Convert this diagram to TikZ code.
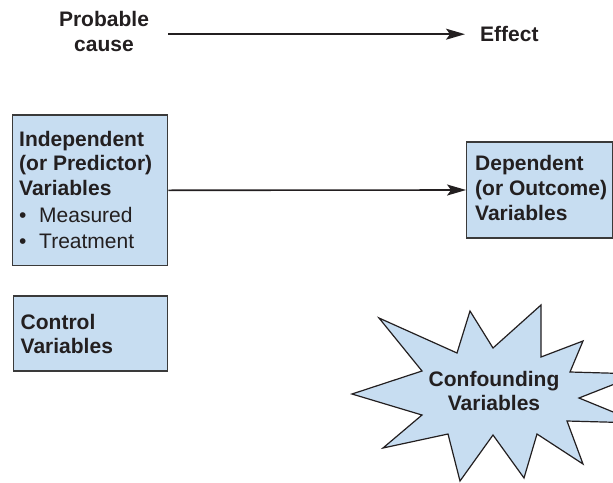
\documentclass[tikz,border=0pt]{standalone}
\usepackage{fontspec}
\setmainfont{Liberation Sans}
\usetikzlibrary{arrows.meta}
\definecolor{ink}{HTML}{231F20}
\definecolor{boxfill}{HTML}{C7DDF1}
\definecolor{boxline}{HTML}{3A3A3A}
\begin{document}
\begin{tikzpicture}[x=1pt,y=-1pt,
  txt/.style={font=\fontsize{21}{24.5}\selectfont\bfseries, text=ink, inner sep=0pt},
  varbox/.style={draw=boxline, line width=1.3pt, fill=boxfill, inner sep=0pt},
  arrow/.style={draw=ink, line width=1.6pt, -{Stealth[length=19pt,width=11pt,inset=4pt]}}
]
\useasboundingbox (0,0) rectangle (613,482);

% cause -> effect legend (base anchors sit on the last line)
\node[txt, align=center, anchor=base] (cause) at (104,51.7)
  {Probable\\[0.5pt]cause};
\node[txt, anchor=base west] (effect) at (480,41.7) {Effect};
\draw[arrow] ([xshift=19pt]cause.east |- effect.west) -- ([xshift=-15pt]effect.west);

% variable boxes
\node[varbox, minimum width=155pt, minimum height=150.5pt] (ind) at (90.2,190.3) {};
\node[varbox, minimum width=146pt, minimum height=96pt] (dep) at (539.7,190) {};
\node[varbox, minimum width=154.5pt, minimum height=75pt] (ctrl) at (90.5,333.5) {};

\node[txt, align=left, anchor=base west] (indtxt) at (19,248.3)
  {Independent\\(or Predictor)\\Variables\\[2.5pt]
   {\mdseries\makebox[20pt][l]{•}Measured}\\[1.5pt]
   {\mdseries\makebox[20pt][l]{•}Treatment}};
\node[txt, align=left, anchor=base west] (deptxt) at (475,220.7)
  {Dependent\\[0.5pt](or Outcome)\\[0.5pt]Variables};
\node[txt, align=left, anchor=base west] (ctrltxt) at (20.5,353.3)
  {Control\\[-0.5pt]Variables};

\draw[arrow] (ind.east) -- (dep.west);

% confounding burst
\begin{scope}
  \clip (0,0) rectangle (613,482);
  \draw[fill=boxfill, draw=ink, line width=1.2pt, line join=miter]
    (379,318) -- (457,353) -- (470,311) -- (493,348) -- (541,305) -- (541,357)
    -- (583,341) -- (570,372) -- (640,374) -- (579,398) -- (640,423) -- (567,421)
    -- (583,464) -- (537,434) -- (524,478) -- (493,435) -- (460,481) -- (448,434)
    -- (383,448) -- (422,415) -- (352,394) -- (422,371) -- cycle;
\end{scope}
\node[txt, align=center, anchor=base] (conf) at (494,410)
  {Confounding\\[-0.5pt]Variables};
\end{tikzpicture}
\end{document}
